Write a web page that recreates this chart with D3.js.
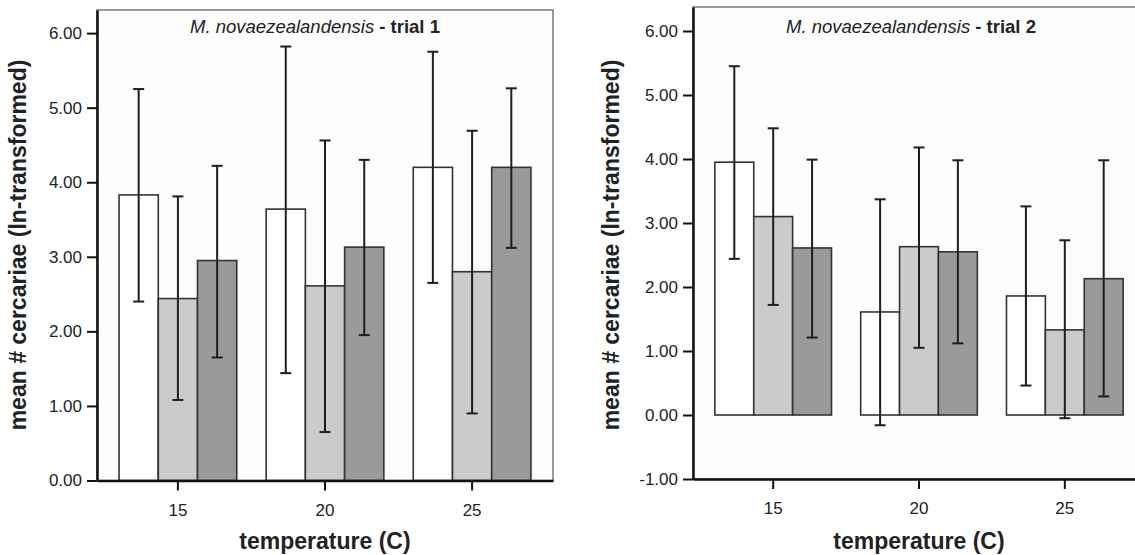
<!DOCTYPE html>
<html>
<head>
<meta charset="utf-8">
<script src="https://cdn.jsdelivr.net/npm/d3@7"></script>
<style>
  body { margin: 0; background: #fff; }
  text { font-family: "Liberation Sans", Arial, sans-serif; fill: #222; }
</style>
</head>
<body>
<svg id="chart" width="1135" height="555"></svg>
<script>
// temperatures on the x axis
var temps = ["15", "20", "25"];
// three bar series per temperature (white, light grey, dark grey)
var series = ["s1", "s2", "s3"];
var fills = ["#ffffff", "#cbcbcb", "#9a9a9a"];

// trial 1 : means and error bar ends, rows = temperature, cols = series
var trial1Means = [[3.83, 2.44, 2.95], [3.64, 2.61, 3.13], [4.20, 2.80, 4.20]];
var trial1Lower = [[2.40, 1.08, 1.65], [1.44, 0.65, 1.95], [2.65, 0.90, 3.12]];
var trial1Upper = [[5.25, 3.81, 4.22], [5.82, 4.56, 4.30], [5.75, 4.69, 5.26]];

// trial 2
var trial2Means = [[3.95, 3.10, 2.61], [1.61, 2.63, 2.55], [1.86, 1.33, 2.13]];
var trial2Lower = [[2.44, 1.72, 1.21], [-0.16, 1.05, 1.12], [0.46, -0.05, 0.29]];
var trial2Upper = [[5.45, 4.48, 3.99], [3.37, 4.18, 3.98], [3.26, 2.73, 3.98]];

var ticks1 = [0, 1, 2, 3, 4, 5, 6];
var ticks2 = [-1, 0, 1, 2, 3, 4, 5, 6];

var svg = d3.select("#chart");

function drawPanel(p) {
	var g = svg.append("g");

	var x = d3.scaleBand()
		.domain(temps)
		.range([p.left, p.right])
		.paddingInner(0.2)
		.paddingOuter(0.15);
	var xs = d3.scaleBand()
		.domain(series)
		.range([0, x.bandwidth()]);
	var y = d3.scaleLinear()
		.domain(p.yDomain)
		.range([p.bottom, p.top]);

	// plot frame
	g.append("rect")
		.attr("x", p.left)
		.attr("y", p.top)
		.attr("width", p.right - p.left)
		.attr("height", p.bottom - p.top)
		.attr("fill", "#fdfdfd")
		.attr("stroke", "#555")
		.attr("stroke-width", 1.2);

	// title
	var title = g.append("text")
		.attr("x", p.titleX)
		.attr("y", 33)
		.attr("text-anchor", "middle")
		.attr("font-size", 18.5);
	title.append("tspan").attr("font-style", "italic").text("M. novaezealandensis");
	title.append("tspan").attr("font-weight", "bold").text(" - " + p.title);

	// bars
	var rows = temps.map(function(t, i) {
		return series.map(function(s, j) {
			return {t: t, s: s, j: j, mean: p.means[i][j], lo: p.lower[i][j], hi: p.upper[i][j]};
		});
	});
	var flat = [].concat.apply([], rows);

	g.selectAll("rect.bar")
		.data(flat)
		.enter().append("rect")
		.attr("class", "bar")
		.attr("x", function(d) { return x(d.t) + xs(d.s); })
		.attr("width", xs.bandwidth())
		.attr("y", function(d) { return y(Math.max(0, d.mean)); })
		.attr("height", function(d) { return Math.abs(y(d.mean) - y(0)); })
		.attr("fill", function(d) { return fills[d.j]; })
		.attr("stroke", "#333")
		.attr("stroke-width", 1.6);

	// error bars
	var cap = 5.5;
	function cx(d) { return x(d.t) + xs(d.s) + xs.bandwidth() / 2; }
	var eb = g.selectAll("g.err")
		.data(flat)
		.enter().append("g")
		.attr("class", "err")
		.attr("stroke", "#1e1e1e")
		.attr("stroke-width", 2);
	eb.append("line")
		.attr("x1", cx)
		.attr("x2", cx)
		.attr("y1", function(d) { return y(d.lo); })
		.attr("y2", function(d) { return y(d.hi); });
	eb.append("line")
		.attr("x1", function(d) { return cx(d) - cap; })
		.attr("x2", function(d) { return cx(d) + cap; })
		.attr("y1", function(d) { return y(d.hi); })
		.attr("y2", function(d) { return y(d.hi); });
	eb.append("line")
		.attr("x1", function(d) { return cx(d) - cap; })
		.attr("x2", function(d) { return cx(d) + cap; })
		.attr("y1", function(d) { return y(d.lo); })
		.attr("y2", function(d) { return y(d.lo); });

	// axes
	var yAxis = g.append("g")
		.attr("transform", "translate(" + p.left + ",0)")
		.call(d3.axisLeft(y).tickValues(p.ticks)
			.tickFormat(function(d) { return d.toFixed(2); })
			.tickSize(10).tickSizeOuter(0).tickPadding(5));
	var xAxis = g.append("g")
		.attr("transform", "translate(0," + p.bottom + ")")
		.call(d3.axisBottom(x).tickSize(10).tickSizeOuter(0).tickPadding(13));

	[yAxis, xAxis].forEach(function(a) {
		a.select(".domain").attr("stroke", "#111").attr("stroke-width", 2.5);
		a.selectAll(".tick line").attr("stroke", "#111").attr("stroke-width", 2);
		a.selectAll(".tick text").attr("font-size", 17).attr("fill", "#222")
			.style("font-family", "'Liberation Sans', Arial, sans-serif");
	});

	// axis titles
	g.append("text")
		.attr("x", x(temps[1]) + x.bandwidth() / 2)
		.attr("y", 549)
		.attr("text-anchor", "middle")
		.attr("font-size", 23)
		.attr("font-weight", "bold")
		.attr("fill", "#111")
		.text("temperature (C)");
	g.append("text")
		.attr("transform", "translate(" + p.yTitleX + ",245) rotate(-90)")
		.attr("text-anchor", "middle")
		.attr("font-size", 23)
		.attr("font-weight", "bold")
		.attr("fill", "#111")
		.text("mean # cercariae (ln-transformed)");
}

drawPanel({
	left: 97, right: 553, top: 10, bottom: 480.5,
	yDomain: [0, 6.31], ticks: ticks1,
	means: trial1Means, lower: trial1Lower, upper: trial1Upper,
	title: "trial 1", titleX: 315, yTitleX: 26
});

drawPanel({
	left: 693, right: 1145, top: 7, bottom: 479,
	yDomain: [-1, 6.375], ticks: ticks2,
	means: trial2Means, lower: trial2Lower, upper: trial2Upper,
	title: "trial 2", titleX: 911, yTitleX: 619
});
</script>
</body>
</html>
